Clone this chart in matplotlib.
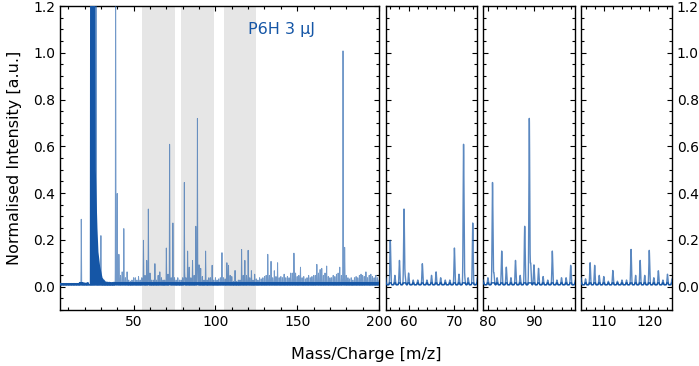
import numpy as np
import matplotlib
matplotlib.use("Agg")
from matplotlib import pyplot as plt

# intensity of the peak at every integer m/z from 5 to 200 (background comb)
mass_start = 5
minor_int = [
    0.004, 0.004, 0.004, 0.004, 0.004, 0.004, 0.004, 0.004, 0.004, 0.004,   # 5-14
    0.004, 0.004, 0.010, 0.004, 0.008, 0.006, 0.006, 0.008, 0.0, 0.0,       # 15-24
    0.0, 0.0, 0.0, 0.0, 0.0, 0.0, 0.020, 0.020, 0.015, 0.012,               # 25-34
    0.012, 0.010, 0.010, 0.012, 0.0, 0.0, 0.0, 0.040, 0.055, 0.0,           # 35-44
    0.030, 0.055, 0.020, 0.015, 0.020, 0.030, 0.030, 0.020, 0.035, 0.020,   # 45-54
    0.030, 0.190, 0.040, 0.104, 0.323, 0.050, 0.020, 0.020, 0.090, 0.020,   # 55-64
    0.040, 0.055, 0.030, 0.020, 0.020, 0.157, 0.045, 0.600, 0.030, 0.264,   # 65-74
    0.030, 0.020, 0.030, 0.020, 0.020, 0.030, 0.437, 0.030, 0.144, 0.075,   # 75-84
    0.030, 0.104, 0.040, 0.250, 0.711, 0.085, 0.070, 0.035, 0.020, 0.144,   # 85-94
    0.020, 0.030, 0.030, 0.083, 0.020, 0.030, 0.020, 0.025, 0.030, 0.137,   # 95-104
    0.030, 0.025, 0.094, 0.083, 0.040, 0.035, 0.015, 0.061, 0.015, 0.020,   # 105-114
    0.020, 0.151, 0.040, 0.104, 0.040, 0.147, 0.030, 0.060, 0.020, 0.045,   # 115-124
    0.025, 0.020, 0.030, 0.025, 0.030, 0.035, 0.040, 0.130, 0.040, 0.100,   # 125-134
    0.030, 0.060, 0.035, 0.094, 0.030, 0.035, 0.030, 0.045, 0.030, 0.035,   # 135-144
    0.030, 0.050, 0.050, 0.135, 0.050, 0.035, 0.040, 0.075, 0.030, 0.035,   # 145-154
    0.025, 0.030, 0.040, 0.030, 0.035, 0.040, 0.040, 0.087, 0.050, 0.065,   # 155-164
    0.070, 0.040, 0.050, 0.080, 0.035, 0.030, 0.030, 0.040, 0.035, 0.045,   # 165-174
    0.050, 0.075, 0.040, 1.000, 0.160, 0.040, 0.030, 0.025, 0.030, 0.020,   # 175-184
    0.030, 0.035, 0.030, 0.040, 0.045, 0.040, 0.035, 0.055, 0.030, 0.040,   # 185-194
    0.045, 0.035, 0.030, 0.040, 0.030, 0.020,                               # 195-200
]

# strong / off-scale peaks
peak_mz = [18, 27, 30, 39, 40, 41, 44]
peak_int = [0.28, 1.50, 0.21, 1.50, 0.39, 0.13, 0.24]

# shoulders next to some peaks
shoulder_mz = [59.25, 81.3, 89.3, 72.25]
shoulder_int = [0.035, 0.05, 0.09, 0.03]

# saturated sodium region (envelope of the ringing)
na_mz = [22.9, 23.1, 26.1, 26.6, 27.1, 27.6, 28.2, 29.2, 30.7, 32.7, 35.0, 38.5]
na_env = [0.01, 1.50, 1.50, 0.50, 0.37, 0.25, 0.15, 0.09, 0.04, 0.02, 0.015, 0.01]

windows = [(55, 75), (79, 99), (105, 125)]
window_ticks = [[60, 70], [80, 90], [110, 120]]

baseline = 0.008
line_color = "#1556a6"

# build the spectrum from the peak lists
mz = np.round(np.arange(5, 200.001, 0.01), 2)
heights = {mass_start + i: h for i, h in enumerate(minor_int)}
for m, h in zip(peak_mz, peak_int):
    heights[m] = h
centres = list(heights.keys()) + shoulder_mz
amps = list(heights.values()) + shoulder_int
sigma = 0.09
signal = np.full_like(mz, baseline)
for c, a in zip(centres, amps):
    if a > 0:
        signal += a * np.exp(-0.5 * ((mz - c) / sigma) ** 2)
na_curve = np.interp(mz, na_mz, na_env, left=0, right=0)
band = np.minimum(signal, baseline + 0.008)

plt.rcParams['font.family'] = 'DejaVu Sans'
fig = plt.figure(figsize=(6.99, 3.66), dpi=100)

ax = fig.add_axes([60 / 699, 56 / 366, 319 / 699, 304 / 366])
panel_left = [385.7, 483.3, 581.0]
panel_w = [91.6, 92.0, 91.0]
axes = [ax] + [fig.add_axes([l / 699, 56 / 366, w / 699, 304 / 366])
               for l, w in zip(panel_left, panel_w)]

for i, a in enumerate(axes):
    a.plot(mz, band, color=line_color, lw=1.3 if i == 0 else 1.0, zorder=3)
    a.plot(mz, signal, color=line_color, lw=0.7 if i == 0 else 1.0,
           alpha=0.6 if i == 0 else 0.7, zorder=4)
    a.set_ylim(-0.1, 1.2)
    a.set_yticks(np.arange(0, 1.21, 0.2))
    a.yaxis.set_minor_locator(matplotlib.ticker.MultipleLocator(0.05))
    a.tick_params(which='both', direction='in', top=True, right=True,
                  labelsize=10, width=0.8)
    a.tick_params(which='major', length=3.5)
    a.tick_params(which='minor', length=2)
    for s in a.spines.values():
        s.set_linewidth(1.0)

ax.fill_between(mz, baseline, na_curve, where=na_curve > baseline,
                color=line_color, lw=0, zorder=3)
for lo, hi in windows:
    ax.axvspan(lo, hi, color='#e6e6e6', lw=0, zorder=1)
ax.set_xlim(5, 200)
ax.set_xticks([50, 100, 150, 200])
ax.xaxis.set_minor_locator(matplotlib.ticker.MultipleLocator(10))
ax.yaxis.set_major_formatter(matplotlib.ticker.FormatStrFormatter('%.1f'))
ax.text(120, 1.1, 'P6H 3 µJ', color=line_color, fontsize=11.5,
        ha='left', va='center')

for a, (lo, hi), t in zip(axes[1:], windows, window_ticks):
    a.set_xlim(lo, hi)
    a.set_xticks(t)
    a.xaxis.set_minor_locator(matplotlib.ticker.MultipleLocator(2))
    a.tick_params(labelleft=False)
axes[-1].tick_params(labelright=True)
axes[-1].yaxis.set_major_formatter(matplotlib.ticker.FormatStrFormatter('%.1f'))

fig.text(15 / 699, 1 - 158 / 366, 'Normalised Intensity [a.u.]', rotation=90,
         ha='center', va='center', fontsize=11.5)
fig.text(366 / 699, 1 - 355 / 366, 'Mass/Charge [m/z]',
         ha='center', va='center', fontsize=11.5)

fig.savefig('out.png', dpi=100)
